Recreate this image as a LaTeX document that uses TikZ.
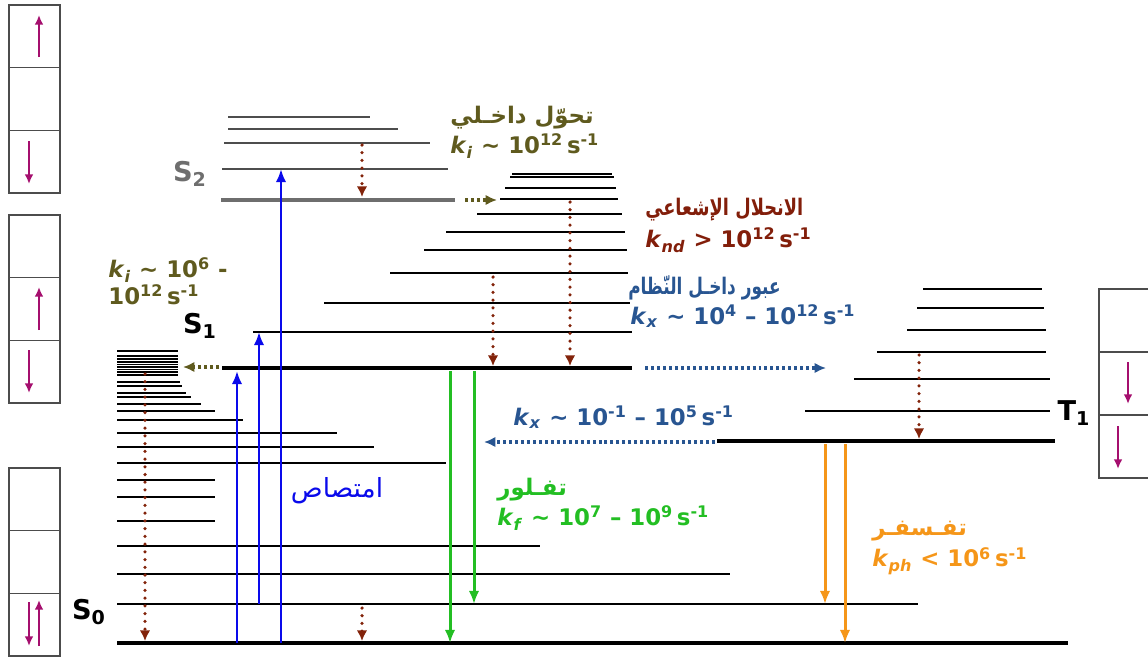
\documentclass[tikz,border=0pt]{standalone}
\usepackage{fontspec}
\usetikzlibrary{arrows.meta}
\setmainfont{DejaVu Sans}
\newfontfamily\arabicfont[Script=Arabic]{DejaVu Sans}
\TeXXeTstate=1
\tikzset{>={Latex[length=7.5pt,width=6pt]}}
\definecolor{icol}{RGB}{95,90,30}     % internal conversion
\definecolor{ndcol}{RGB}{130,30,10}   % non-radiative decay
\definecolor{xcol}{RGB}{40,85,145}    % intersystem crossing
\definecolor{fcol}{RGB}{35,190,35}    % fluorescence
\definecolor{phcol}{RGB}{245,150,25}  % phosphorescence
\definecolor{abscol}{RGB}{10,10,235}  % absorption
\definecolor{dotcol}{RGB}{130,35,10}
\definecolor{spincol}{RGB}{165,15,110}
\definecolor{s2col}{RGB}{110,110,110}
\tikzstyle{vib}=[black,line width=1.1]
\tikzstyle{tvib}=[black,line width=1.6]
\tikzstyle{elev}=[black,line width=2.8]
\tikzstyle{relax}=[dotcol,-{Latex[length=6pt,width=6pt]},line width=2,line cap=round,dash pattern=on 0pt off 4.4pt]
\tikzstyle{cross}=[-{Latex[length=6.5pt,width=6pt]},line width=1.9,dash pattern=on 1.7pt off 1.7pt]
\tikzstyle{radiate}=[->,line width=1.7]
\tikzstyle{spin}=[spincol,-{Latex[length=5.5pt,width=5pt]},line width=1.2]
\tikzstyle{lab}=[font=\fontsize{13}{15}\selectfont\bfseries,anchor=west,inner sep=0]
\tikzstyle{state}=[font=\fontsize{15.5}{17}\selectfont\bfseries,inner sep=0]
\def\kr#1{\textit{k}\textsubscript{\textit{#1}}}
\def\sinv{\,s\textsuperscript{-1}}
\def\spinbox#1#2{\draw[gray!60!black,line width=0.7] (#1,#2) rectangle ++(51,188)
  (#1,#2+62.7) --++ (51,0) (#1,#2+125.3) --++ (51,0)}

\begin{document}
\begin{tikzpicture}[x=0.02cm,y=-0.02cm]
  \useasboundingbox (0,0) rectangle (1148,659);
  \message{^^JJablonski diagram}
  % spin boxes
  \spinbox{9}{5};
  \spinbox{9}{215};
  \spinbox{9}{468};
  \draw[gray!60!black,line width=0.7] (1148,289) -- (1099,289) -- (1099,478) -- (1148,478)
    (1099,352) -- (1148,352) (1099,415) -- (1148,415);
  \draw[spin] (39,57) -- (39,15);
  \draw[spin] (29,141) -- (29,184);
  \draw[spin] (39,330) -- (39,287);
  \draw[spin] (29,350) -- (29,393);
  \draw[spin] (29,602) -- (29,646);
  \draw[spin] (39,646) -- (39,600);
  \draw[spin] (1128,362) -- (1128,404);
  \draw[spin] (1118,426) -- (1118,469);

  % levels
  \coordinate (S0) at (117,643);
  \coordinate (S0v) at (117,604);
  \coordinate (S1) at (222,368);
  \coordinate (S1v) at (253,332);
  \coordinate (S2) at (221,200);
  \coordinate (S2v) at (222,169);
  \coordinate (T1) at (717,441);
  \foreach \a/\b/\y in {117/178/351,117/178/356,117/178/359,117/178/362,117/178/364.5,
      117/178/367,117/178/369.5,117/178/372,117/178/375,117/180/382,117/182/386,117/186/393,
      117/191/397,117/201/404,117/215/411,117/243/420,117/337/433,117/374/447,117/446/463,
      117/215/480,117/215/497,117/215/521,117/540/546,117/730/574,117/918/604}
    \draw[vib] (\a,\y) -- (\b,\y);
  \draw[black,line width=2.6] (S0) -- (1068,643);
  \foreach \a/\b/\y in {512/612/174,510/614/177,505/616/188,500/618/199,477/622/214,
      446/625/232,424/627/250,390/628/273,324/630/303,253/632/332}
    \draw[vib] (\a,\y) -- (\b,\y);
  \draw[elev] (S1) -- (632,368);
  \foreach \a/\b/\y in {228/370/117,228/398/129,224/430/143,222/448/169}
    \draw[vib,s2col!70!black] (\a,\y) -- (\b,\y);
  \draw[elev,s2col,line width=2.4] (S2) -- (455,200);
  \foreach \a/\b/\y in {923/1042/289,917/1044/308,907/1046/330,877/1046/352,854/1050/379,805/1050/411}
    \draw[tvib] (\a,\y) -- (\b,\y);
  \draw[elev] (T1) -- (1055,441);

  % state labels
  \node[state,s2col] (s2lab) at (190,174) {S\textsubscript{2}};
  \node[state] (s1lab) at (200,326) {S\textsubscript{1}};
  \node[state] (s0lab) at (89,612) {S\textsubscript{0}};
  \node[state] (t1lab) at (1074,413) {T\textsubscript{1}};

  % absorption
  \draw[radiate,abscol] (237,0 |- S0) -- (237,371);
  \draw[radiate,abscol] (259,0 |- S0v) -- (259,0 |- S1v);
  \draw[radiate,abscol] (281,0 |- S0) -- (281,0 |- S2v);
  \node[abscol,font=\fontsize{15}{17}\selectfont,inner sep=0] (abs) at (337,491)
    {\arabicfont\beginR امتصاص\endR};

  % relaxation
  \draw[relax] (362,145) -- (362,197);
  \draw[relax] (570,202) -- (570,366);
  \draw[relax] (493,277) -- (493,366);
  \draw[relax] (919,355) -- (919,439);
  \draw[relax] (145,374) -- (145,641);
  \draw[relax] (362,608) -- (362,641);
  \draw[cross,icol] (465,200) -- (497,200);
  \draw[cross,icol] (219,367) -- (183,367);
  \draw[cross,xcol] (645,368) -- (826,368);
  \draw[cross,xcol] (715,442) -- (484,442);

  % fluorescence and phosphorescence
  \draw[radiate,fcol] (450,371) -- (450,0 |- S0);
  \draw[radiate,fcol] (474,371) -- (474,0 |- S0v);
  \draw[radiate,phcol] (825,444) -- (825,0 |- S0v);
  \draw[radiate,phcol] (845,444) -- (845,0 |- S0);

  % rates
  \node[lab,icol] (ica) at (450,118) {\arabicfont\beginR تحوّل داخـلي\endR};
  \node[lab,icol] (ick) at (450,146) {\kr{i} \textasciitilde{} 10\textsuperscript{12}\sinv};
  \node[lab,icol] (ick2) at (108,270) {\kr{i} \textasciitilde{} 10\textsuperscript{6} -};
  \node[lab,icol] (ick3) at (108,295) {10\textsuperscript{12}\sinv};
  \node[lab,ndcol,xscale=0.78] (nda) at (645,210) {\arabicfont\beginR الانحلال الإشعاعي\endR};
  \node[lab,ndcol] (ndk) at (645,240) {\kr{nd} > 10\textsuperscript{12}\sinv};
  \node[lab,xcol,xscale=0.74] (isca) at (628,288) {\arabicfont\beginR عبور داخـل النّظام\endR};
  \node[lab,xcol] (isck) at (630,316) {\kr{x} \textasciitilde{} 10\textsuperscript{4} -- 10\textsuperscript{12}\sinv};
  \node[lab,xcol] (isck2) at (513,417) {\kr{x} \textasciitilde{} 10\textsuperscript{-1} -- 10\textsuperscript{5}\sinv};
  \node[lab,fcol] (fa) at (497,490) {\arabicfont\beginR تفـلور\endR};
  \node[lab,fcol] (fk) at (497,518) {\kr{f} \textasciitilde{} 10\textsuperscript{7} -- 10\textsuperscript{9}\sinv};
  \node[lab,phcol] (pha) at (872,531) {\arabicfont\beginR تفـسفـر\endR};
  \node[lab,phcol] (phk) at (872,561) {\kr{ph} < 10\textsuperscript{6}\sinv};
\end{tikzpicture}
\end{document}
